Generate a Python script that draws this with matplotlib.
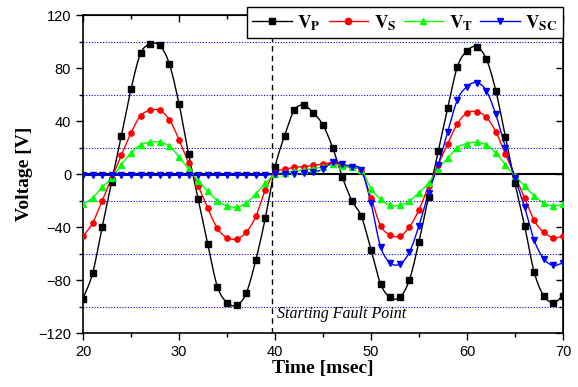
"""
Phase voltages before and after the fault (V_P, V_S, V_T, V_SC).
Origin-style plot: smooth lines through 1 ms samples, dotted blue guides.
"""

import numpy as np
import matplotlib
matplotlib.use("Agg")
import matplotlib.pyplot as plt
from matplotlib.ticker import MultipleLocator

# time axis [msec], one sample per ms
time_ms = [20, 21, 22, 23, 24, 25, 26, 27, 28, 29,
           30, 31, 32, 33, 34, 35, 36, 37, 38, 39,
           40, 41, 42, 43, 44, 45, 46, 47, 48, 49,
           50, 51, 52, 53, 54, 55, 56, 57, 58, 59,
           60, 61, 62, 63, 64, 65, 66, 67, 68, 69, 70]

v_p = [-94, -75, -40, -6, 29, 64, 91, 98, 97, 83,
       53, 15, -19, -53, -85, -97, -99, -90, -65, -33,
       5, 29, 48, 52, 46, 37, 20, -2, -20, -32,
       -57, -83, -93, -93, -80, -51, -17, 17, 50, 81,
       93, 96, 87, 63, 28, -7, -39, -74, -92, -97, -92]

v_s = [-47, -37, -20, -3, 14, 31, 44, 48, 48, 41,
       26, 8, -9, -26, -41, -48, -49, -44, -32, -12,
       1, 3.5, 5, 5.5, 6.5, 7.5, 8.5, 6, 5, 2,
       -18, -39, -46, -47, -40, -27, -9, 7, 23, 38,
       46, 47, 43, 32, 15, -1.5, -18, -35, -44, -48, -47]

v_t = [-23, -18, -10, -3, 7, 16, 22, 24, 24, 21,
       13, 3.5, -5, -13, -20, -24, -25, -22, -15, -7,
       0, 1, 2, 3, 4, 5.5, 7.5, 6, 5, 3,
       -11, -19, -23.5, -23.5, -20.5, -14, -7, 4, 12, 20,
       23, 24, 22, 16, 7, -1.5, -9, -16.5, -22, -24, -23]

v_sc = [-1, -1, -1, -1, -1, -1, -1, -1, -1, -1,
        -1, -1, -1, -1, -1, -1, -1, -1, -1, -1,
        0, 0, 0, 0.5, 1.5, 3.5, 9, 7.5, 5.5, 3,
        -22, -55, -67, -68, -59, -39, -14, 7, 32, 56,
        66, 69, 63, 45, 20, -3, -25, -50, -64, -69, -67]

series_labels = [r"$\mathbf{V}_{\mathbf{P}}$", r"$\mathbf{V}_{\mathbf{S}}$",
                 r"$\mathbf{V}_{\mathbf{T}}$", r"$\mathbf{V}_{\mathbf{SC}}$"]
fault_time = 39.7


def _smooth(x, y, n=12):
    # Catmull-Rom through the samples, like Origin's spline connect
    x = np.asarray(x, float)
    y = np.asarray(y, float)
    xp = np.concatenate([[2 * x[0] - x[1]], x, [2 * x[-1] - x[-2]]])
    yp = np.concatenate([[2 * y[0] - y[1]], y, [2 * y[-1] - y[-2]]])
    s = np.linspace(0, 1, n, endpoint=False)
    xs, ys = [], []
    for i in range(1, len(xp) - 2):
        for arr, out in ((xp, xs), (yp, ys)):
            p0, p1, p2, p3 = arr[i - 1], arr[i], arr[i + 1], arr[i + 2]
            out.append(0.5 * (2 * p1 + (-p0 + p2) * s
                              + (2 * p0 - 5 * p1 + 4 * p2 - p3) * s ** 2
                              + (-p0 + 3 * p1 - 3 * p2 + p3) * s ** 3))
    xs.append([x[-1]])
    ys.append([y[-1]])
    return np.concatenate(xs), np.concatenate(ys)


plt.rcParams["mathtext.fontset"] = "stix"
fig = plt.figure(figsize=(5.78, 3.87), dpi=100)
ax = fig.add_axes([0.1436, 0.1395, 0.8304, 0.8217])

# dotted blue guide lines and the solid zero line
for yv in (-100, -60, -20, 20, 60, 100):
    ax.axhline(yv, color="#0000ff", linestyle=(0, (1, 1.5)), linewidth=0.8, zorder=1)
ax.axhline(0, color="black", linewidth=1.5, zorder=2)
ax.axvline(fault_time, color="black", linestyle=(0, (4, 3)), linewidth=1.0, zorder=2)

styles = [("black", "s"), ("#ff0000", "o"), ("#00ff00", "^"), ("#0000ff", "v")]
handles = []
for vals, (col, mk), lab in zip([v_p, v_s, v_t, v_sc], styles, series_labels):
    xs, ys = _smooth(time_ms, vals)
    ax.plot(xs, ys, color=col, linewidth=1.0, zorder=3)
    ax.plot(time_ms, vals, linestyle="none", marker=mk, color=col,
            markersize=3.8, zorder=4)
    h, = ax.plot([], [], color=col, marker=mk, markersize=4.5, linewidth=1.0, label=lab)
    handles.append(h)

ax.set_xlim(20, 70)
ax.set_ylim(-120, 120)
ax.xaxis.set_major_locator(MultipleLocator(10))
ax.xaxis.set_minor_locator(MultipleLocator(5))
ax.yaxis.set_major_locator(MultipleLocator(40))
ax.yaxis.set_minor_locator(MultipleLocator(20))
ax.tick_params(which="major", direction="out", length=5, width=1, labelsize=10.5)
ax.tick_params(which="minor", direction="out", length=3, width=1)
for lab in ax.get_xticklabels() + ax.get_yticklabels():
    lab.set_family("Liberation Sans")
for sp in ax.spines.values():
    sp.set_linewidth(1.2)

# mirrored ticks on top and right, pointing inward
top = ax.secondary_xaxis("top")
top.xaxis.set_major_locator(MultipleLocator(10))
top.xaxis.set_minor_locator(MultipleLocator(5))
top.tick_params(which="both", direction="in", labeltop=False, width=1)
top.tick_params(which="major", length=5)
top.tick_params(which="minor", length=3)
right = ax.secondary_yaxis("right")
right.yaxis.set_major_locator(MultipleLocator(40))
right.yaxis.set_minor_locator(MultipleLocator(20))
right.tick_params(which="both", direction="in", labelright=False, width=1)
right.tick_params(which="major", length=5)
right.tick_params(which="minor", length=3)

ax.set_xlabel("Time [msec]", family="Liberation Serif", fontweight="bold",
              fontsize=14, labelpad=1)
ax.set_ylabel("Voltage [V]", family="Liberation Serif", fontweight="bold",
              fontsize=14, labelpad=4)

ax.text(40.2, -106, "Starting Fault Point", family="Liberation Serif",
        style="italic", fontsize=11.5, ha="left", va="center", zorder=5)

leg = fig.legend(handles=handles, loc="upper right", ncol=4,
                 bbox_to_anchor=(0.974, 0.981), bbox_transform=fig.transFigure,
                 fontsize=13.5, frameon=True, fancybox=False, framealpha=1,
                 edgecolor="black", handlelength=2.1, handletextpad=0.3,
                 columnspacing=0.4, borderpad=0.3, borderaxespad=0)
leg.get_frame().set_linewidth(1.0)

fig.savefig("out.png", dpi=100)
